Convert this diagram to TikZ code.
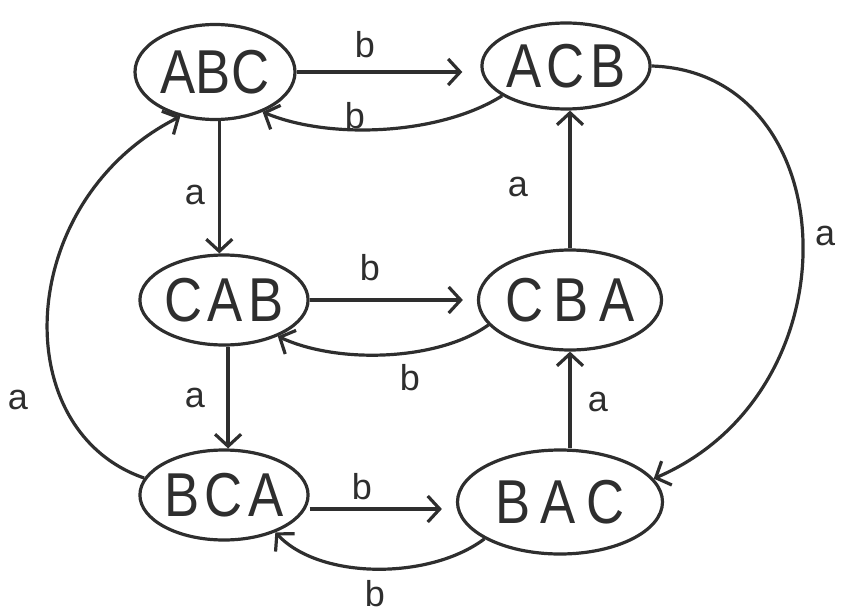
\documentclass[tikz,border=0pt]{standalone}
\usepackage{fontspec}
\setmainfont{Liberation Sans}
\usetikzlibrary{shapes.geometric,arrows.meta}
\definecolor{ink}{HTML}{2E2E2E}
\newcommand{\statefont}{\fontsize{62}{62}\selectfont}
\newcommand{\edgefont}{\fontsize{36}{36}\selectfont}
\newcommand{\lgap}{\hspace{0.1em}}
\newcommand{\narrow}[1]{\scalebox{0.85}[1]{#1}}
\begin{document}
\begin{tikzpicture}[x=1pt,y=-1pt,
  line width=3.2pt, draw=ink,
  state/.style={ellipse, draw=ink, line width=3.2pt, inner sep=0pt, text=ink, font=\statefont},
  lbl/.style={text=ink, font=\edgefont, inner sep=0pt},
  arr/.style={-{Straight Barb[length=12pt,width=26pt,line width=3.2pt]}, draw=ink, line width=3.2pt}]
\useasboundingbox (0,0) rectangle (845,615);

% states
\node[state, minimum width=160pt, minimum height=95pt]  (abc) at (215,72)  {\narrow{ABC}};
\node[state, minimum width=157pt, minimum height=86pt]  (acb) at (566,66)  {\narrow{A\lgap C\lgap B}};
\node[state, minimum width=164pt, minimum height=90pt]  (cab) at (224,300) {\narrow{C\lgap A\lgap B}};
\node[state, minimum width=176pt, minimum height=100pt] (cba) at (570,300) {\narrow{C\lgap\lgap B\lgap\lgap A}};
\node[state, minimum width=164pt, minimum height=90pt]  (bca) at (224,495) {\narrow{B\lgap C\lgap A}};
\node[state, minimum width=205pt, minimum height=104pt] (bac) at (560,502) {\narrow{B\lgap\lgap A\lgap\lgap C}};

% b transitions
\draw[arr, shorten >=18pt] (abc.east) -- (abc.east -| acb.west);
\draw[arr] (acb.205) .. controls (440,135) and (330,140) .. (abc.-40);
\draw[arr, shorten >=14pt] (cab.east) -- (cab.east -| cba.west);
\draw[arr] (cba.197) .. controls (440,360) and (340,365) .. (cab.-34);
\draw[arr, shorten >=14pt] ([yshift=-14pt]bca.east) -- ([yshift=-14pt]bca.east -| bac.west);
\draw[arr] (bac.206) .. controls (430,580) and (320,580) .. (bca.-36);

% a transitions
\draw[arr] (abc.-85) -- (abc.-85 |- cab.north);
\draw[arr] (cab.-85) -- (cab.-85 |- bca.north);
\draw[arr] (cba.north) -- (acb.south -| cba.north);
\draw[arr] (bac.north -| cba.south) -- (cba.south);
\draw[arr] (bca.168) .. controls (5,430) and (15,200) .. (abc.-128);
\draw[arr] (acb.east) .. controls (845,72) and (860,390) .. (bac.14);

% labels
\node[lbl] (l1)  at (365,45)  {b};
\node[lbl] (l2)  at (355,116) {b};
\node[lbl] (l3)  at (370,268) {b};
\node[lbl] (l4)  at (410,378) {b};
\node[lbl] (l5)  at (362,487) {b};
\node[lbl] (l6)  at (375,594) {b};
\node[lbl] (l7)  at (195,195) {a};
\node[lbl] (l8)  at (518,187) {a};
\node[lbl] (l9)  at (195,398) {a};
\node[lbl] (l10) at (598,402) {a};
\node[lbl] (l11) at (18,400)  {a};
\node[lbl] (l12) at (825,236) {a};
\end{tikzpicture}
\end{document}
